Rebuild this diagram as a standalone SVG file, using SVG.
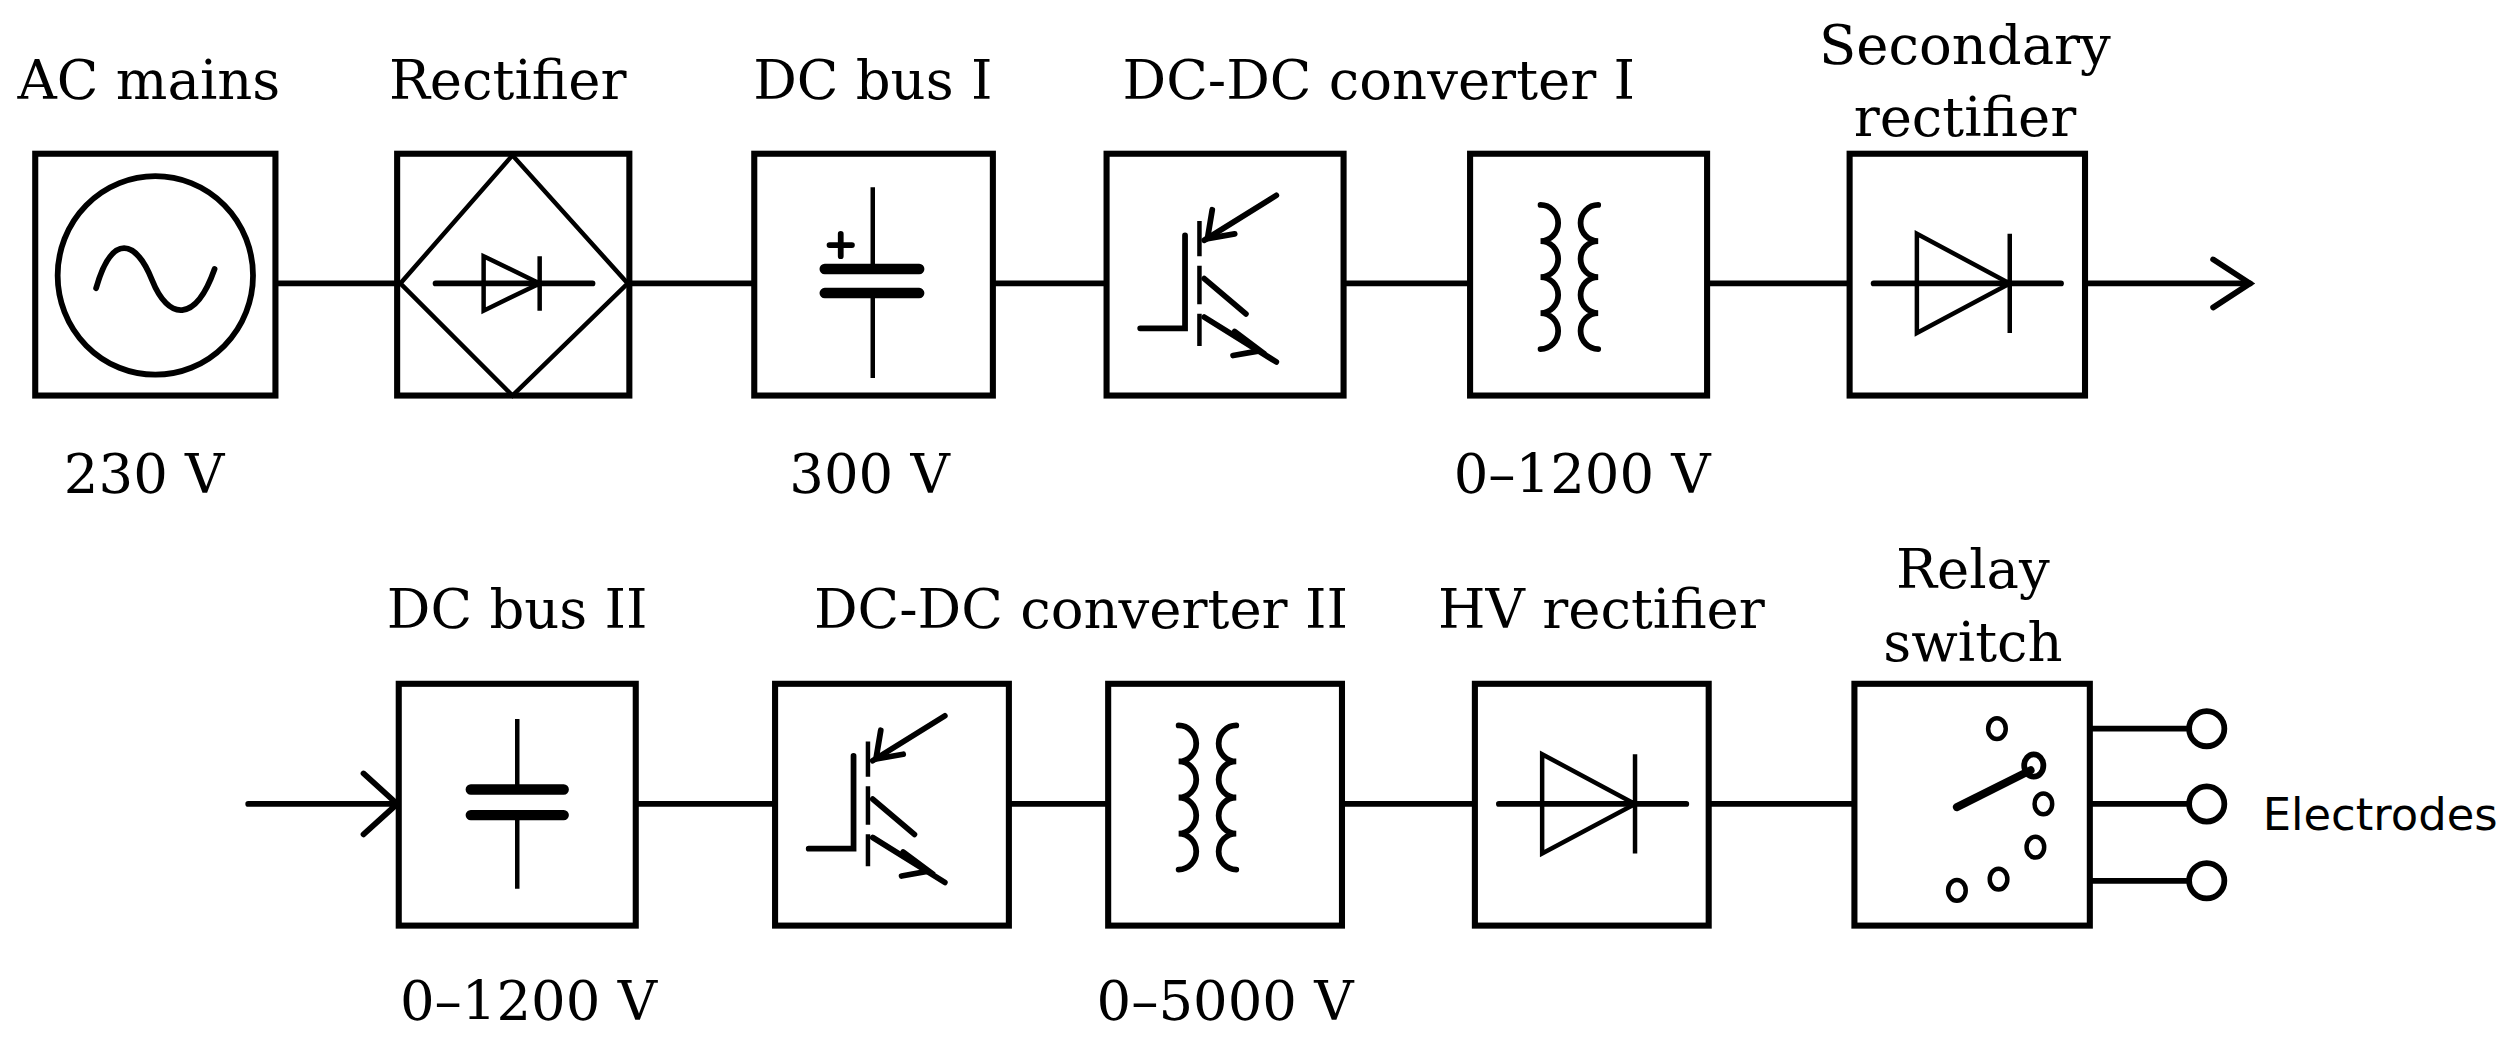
<svg xmlns="http://www.w3.org/2000/svg" xmlns:xlink="http://www.w3.org/1999/xlink" width="2511" height="1039" viewBox="0 0 2511 1039">
<style>
.box{fill:#fff;stroke:#000;stroke-width:3.8}
.ln{fill:none;stroke:#000;stroke-width:3.6;stroke-linecap:round}
.thin{fill:none;stroke:#000;stroke-width:2.8}
.plate{fill:none;stroke:#000;stroke-width:6.5;stroke-linecap:round}
.lbl{font-family:"DejaVu Serif","Liberation Serif",serif;font-size:34px;text-anchor:middle;fill:#000}
.sans{font-family:"DejaVu Sans","Liberation Sans",sans-serif;font-size:28px;fill:#000}
</style>
<defs>
<g id="igbt">
<path class="ln" d="M712,205 H740 V147"/>
<path class="thin" d="M749,138 V160 M749,166 V190 M749,196 V216"/>
<path class="ln" d="M797,122 L752,150 M752,174 L778,196 M752,198 L797,226"/>
<path class="ln" d="M757,131 L754,149 L771,146"/>
<path class="ln" d="M771,207 L787,219 L770,222"/>
</g>
<g id="xfmr">
<path class="ln" d="M962,128 A11 11.25 0 0 1 962,150.5 A11 11.25 0 0 1 962,173 A11 11.25 0 0 1 962,195.5 A11 11.25 0 0 1 962,218"/>
<path class="ln" d="M998,128 A11 11.25 0 0 0 998,150.5 A11 11.25 0 0 0 998,173 A11 11.25 0 0 0 998,195.5 A11 11.25 0 0 0 998,218"/>
</g>
<g id="diode">
<path class="ln" d="M1170,177 H1287"/>
<path class="thin" d="M1197,146 V208 L1255,177 Z M1255,146 V208"/>
</g>
</defs>
<g transform="scale(1.6014)">
<g id="connectors">
<path class="ln" d="M172,177 H248 M393,177 H471 M620,177 H691 M839,177 H918 M1066,177 H1155 M1302,177 H1405"/>
<path class="ln" d="M1382,162 L1405,177 L1382,192"/>
<path class="ln" d="M155,502 H248 M227,483 L248,502 L227,521"/>
<path class="ln" d="M397,502 H484 M630,502 H692 M838,502 H921 M1067,502 H1158"/>
<path class="ln" d="M1305,455 H1366 M1305,502 H1366 M1305,550 H1366"/>
</g>
<g id="ac-mains">
<rect class="box" x="22" y="96" width="150" height="151"/>
<ellipse class="ln" cx="97" cy="172" rx="61" ry="62"/>
<path class="ln" d="M60,180 C70,145 85,150 95,175 C105,200 122,202 134,168"/>
<text class="lbl" x="93" y="62">AC mains</text>
<text class="lbl" x="90" y="308">230 V</text>
</g>
<g id="rectifier">
<rect class="box" x="248" y="96" width="145" height="151"/>
<path class="thin" d="M320,97 L250,177 L320,247 L392,177 Z"/>
<path class="ln" d="M272,177 H370"/>
<path class="thin" d="M302,160 V194 L337,177 Z M337,160 V194"/>
<text class="lbl" x="317" y="62">Rectifier</text>
</g>
<g id="dc-bus-1">
<rect class="box" x="471" y="96" width="149" height="151"/>
<path class="thin" d="M545,117 V168 M545,182 V236"/>
<path class="plate" d="M515,168 H574 M515,183 H574"/>
<path class="ln" d="M518,153 H532 M525,146 V160"/>
<text class="lbl" x="545" y="62">DC bus I</text>
<text class="lbl" x="543" y="308">300 V</text>
</g>
<g id="dcdc-1">
<rect class="box" x="691" y="96" width="148" height="151"/>
<use xlink:href="#igbt"/>
<text class="lbl" x="861" y="62">DC-DC converter I</text>
</g>
<g id="transformer-1">
<rect class="box" x="918" y="96" width="148" height="151"/>
<use xlink:href="#xfmr"/>
<text class="lbl" x="988" y="308">0–1200 V</text>
</g>
<g id="secondary-rectifier">
<rect class="box" x="1155" y="96" width="147" height="151"/>
<use xlink:href="#diode"/>
<text class="lbl" x="1227" y="40">Secondary</text>
<text class="lbl" x="1227" y="85">rectifier</text>
</g>
<g id="dc-bus-2">
<rect class="box" x="249" y="427" width="148" height="151"/>
<path class="thin" d="M323,449 V493 M323,509 V555"/>
<path class="plate" d="M294,493 H352 M294,509 H352"/>
<text class="lbl" x="323" y="392">DC bus II</text>
<text class="lbl" x="330" y="637">0–1200 V</text>
</g>
<g id="dcdc-2">
<rect class="box" x="484" y="427" width="146" height="151"/>
<use xlink:href="#igbt" transform="translate(-207,325)"/>
<text class="lbl" x="675" y="392">DC-DC converter II</text>
</g>
<g id="transformer-2">
<rect class="box" x="692" y="427" width="146" height="151"/>
<use xlink:href="#xfmr" transform="translate(-226,325)"/>
<text class="lbl" x="765" y="637">0–5000 V</text>
</g>
<g id="hv-rectifier">
<rect class="box" x="921" y="427" width="146" height="151"/>
<use xlink:href="#diode" transform="translate(-234,325)"/>
<text class="lbl" x="1000" y="392">HV rectifier</text>
</g>
<g id="relay-switch">
<rect class="box" x="1158" y="427" width="147" height="151"/>
<ellipse class="thin" cx="1247" cy="455" rx="5.5" ry="6.5"/>
<ellipse class="ln" cx="1270" cy="478" rx="6" ry="7"/>
<ellipse class="thin" cx="1276" cy="502" rx="5.5" ry="6.5"/>
<ellipse class="thin" cx="1271" cy="529" rx="5.5" ry="6.5"/>
<ellipse class="thin" cx="1248" cy="549" rx="5.5" ry="6.5"/>
<ellipse class="thin" cx="1222" cy="556" rx="5.5" ry="6.5"/>
<path class="plate" style="stroke-width:5" d="M1222,504 L1268,481"/>
<text class="lbl" x="1232" y="367">Relay</text>
<text class="lbl" x="1232" y="413">switch</text>
</g>
<g id="electrodes">
<circle class="ln" cx="1378" cy="455" r="11"/>
<circle class="ln" cx="1378" cy="502" r="11"/>
<circle class="ln" cx="1378" cy="550" r="11"/>
<text class="sans" x="1413" y="518">Electrodes</text>
</g>
</g>
</svg>
